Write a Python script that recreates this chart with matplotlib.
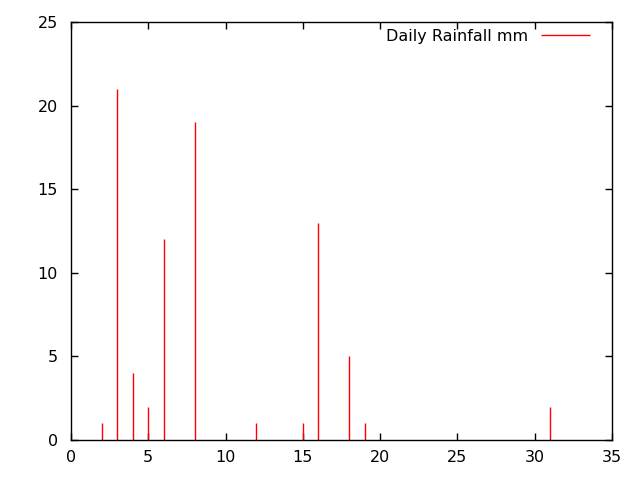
import matplotlib
matplotlib.use("Agg")
import matplotlib.pyplot as plt

days = [2, 3, 4, 5, 6, 8, 12, 15, 16, 18, 19, 31]
rain_mm = [1, 21, 4, 2, 12, 19, 1, 1, 13, 5, 1, 2]
xticks = [0, 5, 10, 15, 20, 25, 30, 35]
yticks = [0, 5, 10, 15, 20, 25]

plt.rcParams['font.family'] = ['DejaVu Sans']
fig = plt.figure(figsize=(6.4, 4.8), dpi=100)
ax = fig.add_axes([71/640, 1-440/480, (612-71)/640, (440-22)/480])

ax.vlines(days, 0, rain_mm, colors='#ff0000', linewidth=1.0, label='Daily Rainfall mm')

ax.set_xlim(0, 35)
ax.set_ylim(0, 25)
ax.set_xticks(xticks)
ax.set_yticks(yticks)
ax.tick_params(direction='in', length=5, width=1, top=True, right=True,
               labelsize=11.5, colors='black')
ax.tick_params(axis='x', pad=7.5)
ax.tick_params(axis='y', pad=9.5)
for s in ax.spines.values():
    s.set_linewidth(1.0)
    s.set_color('black')

leg = ax.legend(loc='upper right', frameon=False, fontsize=11.5,
                markerfirst=False, handlelength=3.05, handletextpad=0.8,
                borderaxespad=0, borderpad=0,
                bbox_to_anchor=(590/640, 1-29/480), bbox_transform=fig.transFigure)

fig.savefig('out.png', dpi=100)
